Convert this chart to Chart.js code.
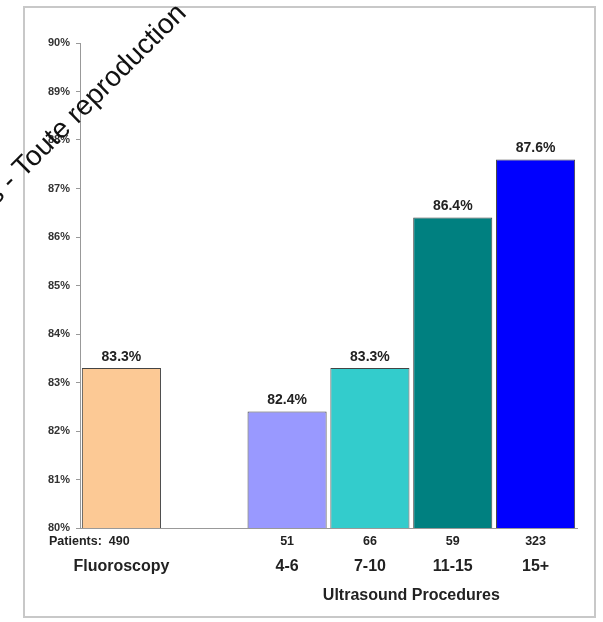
<!DOCTYPE html>
<html>
<head>
<meta charset="utf-8">
<script src="https://cdn.jsdelivr.net/npm/chart.js@4.4.0/dist/chart.umd.min.js"></script>
<style>
  html, body { margin: 0; padding: 0; background: #fff; }
  #wrap { position: relative; width: 603px; height: 622px; }
  #frame { position: absolute; left: 23px; top: 6px; width: 569px; height: 608px; border: 2px solid #c8c8c8; }
  canvas { position: absolute; left: 0; top: 0; }
</style>
</head>
<body>
<div id="wrap">
  <div id="frame"></div>
  <canvas id="chart" width="603" height="622"></canvas>
</div>
<script>
'use strict';

// one empty slot between the fluoroscopy bar and the ultrasound groups
var categories = ['Fluoroscopy', '', '4-6', '7-10', '11-15', '15+'];
var successRate = [83.3, null, 82.4, 83.3, 86.4, 87.6];
var patients = ['Patients:  490', '', '51', '66', '59', '323'];
var barColors = ['#FCC995', '#ffffff', '#9999FF', '#33CCCC', '#008080', '#0000FF'];
var yTicks = [80, 81, 82, 83, 84, 85, 86, 87, 88, 89, 90];
var groupTitle = 'Ultrasound Procedures';

var FONT = '"Liberation Sans", Arial, sans-serif';

var labelsPlugin = {
    id: 'labels',
    afterDatasetsDraw: function(chart) {
        var ctx = chart.ctx;
        var meta = chart.getDatasetMeta(0);
        ctx.save();
        ctx.fillStyle = '#222';
        ctx.textAlign = 'center';
        ctx.textBaseline = 'bottom';
        ctx.font = 'bold 14px ' + FONT;
        $each(meta.data, function(ix, bar) {
            if (successRate[ix] == null) return;
            ctx.fillText(successRate[ix].toFixed(1) + '%', bar.x, bar.y - 4);
        });

        var xs = chart.scales.x;
        var base = chart.chartArea.bottom;
        ctx.textBaseline = 'middle';
        $each(categories, function(ix, cat) {
            var x = xs.getPixelForValue(ix);
            ctx.font = 'bold 12.5px ' + FONT;
            if (ix == 0) {
                ctx.textAlign = 'left';
                ctx.fillText(patients[ix], 49, base + 14);
                ctx.textAlign = 'center';
            } else {
                ctx.fillText(patients[ix], x, base + 14);
            }
            ctx.font = 'bold 16px ' + FONT;
            ctx.fillText(cat, x, base + 39);
        });
        var mid = (xs.getPixelForValue(2) + xs.getPixelForValue(5)) / 2;
        ctx.fillText(groupTitle, mid, base + 68);

        // watermark line across the top-left corner
        ctx.translate(-4, 206);
        ctx.rotate(-Math.PI / 4);
        ctx.textAlign = 'left';
        ctx.textBaseline = 'alphabetic';
        ctx.font = '28px ' + FONT;
        ctx.fillStyle = '#111';
        ctx.fillText('s - Toute reproduction', 0, 0);
        ctx.restore();
    }
};

function $each(arr, fn) {
    for (var i = 0; i < arr.length; i++) fn(i, arr[i]);
}

var ctx = document.getElementById('chart').getContext('2d');
var chart = new Chart(ctx, {
    type: 'bar',
    data: {
        labels: categories,
        datasets: [{
            data: successRate,
            backgroundColor: barColors,
            borderColor: '#444',
            borderWidth: 1,
            borderSkipped: 'bottom',
            barPercentage: 0.955,
            categoryPercentage: 1.0
        }]
    },
    options: {
        responsive: false,
        animation: false,
        devicePixelRatio: 1,
        layout: { padding: { left: 0, right: 26, top: 43, bottom: 0 } },
        plugins: { legend: { display: false }, tooltip: { enabled: false } },
        scales: {
            x: {
                grid: { display: false },
                border: { display: true, color: '#999', width: 1 },
                ticks: { display: false },
                afterFit: function(axis) { axis.height = 94; }
            },
            y: {
                min: 80,
                max: 90,
                afterBuildTicks: function(axis) {
                    axis.ticks = yTicks.map(function(v) { return { value: v }; });
                },
                grid: { display: true, drawOnChartArea: false, drawTicks: true, tickLength: 4, color: '#999' },
                border: { display: true, color: '#999', width: 1 },
                ticks: {
                    padding: 6,
                    color: '#333',
                    font: { family: FONT, size: 11, weight: 'bold' },
                    callback: function(v) { return v + '%'; }
                },
                afterFit: function(axis) { axis.width = 80; }
            }
        }
    },
    plugins: [labelsPlugin]
});
</script>
</body>
</html>
